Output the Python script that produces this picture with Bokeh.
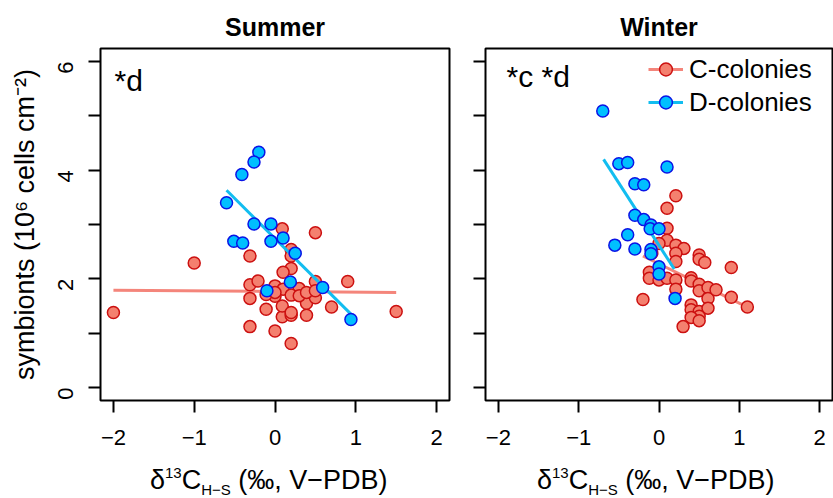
import math
from bokeh.plotting import figure
from bokeh.layouts import row, column
from bokeh.models import Range1d, FixedTicker, Label, Legend, LegendItem, Div
from bokeh.embed import file_html
from bokeh.resources import INLINE

FONT = "Liberation Sans"

# ---------------- data ----------------
summer_c_x = [-2.0, -1.0, 1.5, 0.9, 0.5, -0.31, -0.31, 0.0, 0.2, 0.7, 0.09, -0.31, -0.21,
              -0.31, -0.11, 0.39, 0.09, 0.2, 0.09, 0.39, 0.5, 0.5, 0.2, 0.1, 0.2, 0.2, 0.0,
              0.0, 0.1, 0.3, 0.2, 0.3, -0.11, 0.0, 0.39, 0.2, 0.5]
summer_c_y = [1.38, 2.29, 1.40, 1.95, 2.85, 2.42, 1.12, 1.04, 0.81, 1.48, 2.92, 1.89, 1.96,
              1.64, 1.44, 1.33, 1.30, 1.33, 1.50, 1.55, 1.65, 1.95, 2.19, 2.12, 2.54, 2.42, 1.87,
              1.68, 1.81, 1.82, 1.70, 1.69, 1.71, 1.75, 1.75, 1.38, 1.78]
summer_d_x = [-0.20, -0.26, -0.41, -0.60, -0.26, -0.05, -0.51, -0.40, -0.05, 0.10, 0.25,
              0.19, -0.10, 0.59, 0.94]
summer_d_y = [4.33, 4.15, 3.92, 3.40, 3.01, 3.01, 2.69, 2.66, 2.69, 2.75, 2.47,
              1.94, 1.78, 1.84, 1.25]
winter_c_x = [0.21, 0.10, 0.10, 0.10, 0.0, 0.21, 0.31, 0.21, 0.21, -0.09, 0.50, 0.50, 0.57,
              0.90, -0.12, -0.12, 0.0, 0.10, 0.21, 0.21, 0.40, 0.40, 0.50, 0.50, 0.61, 0.61,
              0.71, 0.90, 1.10, -0.20, 0.40, 0.40, 0.50, 0.50, 0.40, 0.50, 0.61, 0.30]
winter_c_y = [3.53, 3.30, 2.93, 2.71, 2.65, 2.62, 2.56, 2.47, 2.32, 2.47, 2.44, 2.36, 2.30,
              2.21, 2.12, 2.01, 1.98, 2.01, 1.98, 1.81, 2.02, 1.96, 1.90, 1.78, 1.84, 1.64,
              1.80, 1.66, 1.48, 1.62, 1.52, 1.43, 1.40, 1.31, 1.29, 1.23, 1.46, 1.12]
winter_d_x = [-0.70, -0.50, -0.39, 0.10, -0.30, -0.19, -0.30, -0.19, -0.10, -0.11, 0.0,
              -0.39, -0.55, -0.30, -0.10, -0.10, 0.0, 0.0, 0.20]
winter_d_y = [5.09, 4.12, 4.14, 4.06, 3.75, 3.73, 3.17, 3.09, 2.99, 2.92, 2.92,
              2.81, 2.62, 2.55, 2.54, 2.46, 2.22, 2.09, 1.64]

# regression lines as drawn in the reference (end points)
summer_c_fit_x = [-2.0, 1.5]
summer_c_fit_y = [1.79, 1.75]
summer_d_fit_x = [-0.60, 0.94]
summer_d_fit_y = [3.63, 1.35]
winter_c_fit_x = [-0.20, 1.10]
winter_c_fit_y = [2.42, 1.48]
winter_d_fit_x = [-0.69, 0.19]
winter_d_fit_y = [4.20, 2.18]

x_ticks = [-2, -1, 0, 1, 2]
x_tick_labels = ["\u22122", "\u22121", "0", "1", "2"]
y_ticks = [0, 1, 2, 3, 4, 5, 6]
y_tick_labels = ["0", "", "2", "", "4", "", "6"]
panel_titles = ["Summer", "Winter"]
panel_notes = ["*d", "*c *d"]
series_names = ["C-colonies", "D-colonies"]
y_label = "symbionts (10\u2076 cells cm\u207b\u00b2)"

C_FILL, C_EDGE, C_LINE = "#F4806F", "#CC1010", "#F4857B"
D_FILL, D_EDGE, D_LINE = "#00BFFF", "#0A14E6", "#12BDF0"

FIG_H = 455
TOP = 48
BOTTOM = 55


def make_panel(idx, cx, cy, dx, dy, fcx, fcy, fdx, fdy, width, bl, br, first):
    p = figure(width=width, height=FIG_H, x_range=Range1d(-2.16, 2.16),
               y_range=Range1d(-0.24, 6.24), output_backend="svg", toolbar_location=None,
               min_border_left=bl, min_border_right=br, min_border_top=TOP,
               min_border_bottom=BOTTOM, title=panel_titles[idx])
    p.title.align = "center"
    p.title.text_font = FONT
    p.title.text_font_size = "25px"
    p.title.text_font_style = "bold"
    p.title.text_color = "black"
    p.title.standoff = 15
    p.xgrid.grid_line_color = None
    p.ygrid.grid_line_color = None
    p.outline_line_color = "black"
    p.outline_line_width = 2
    p.outline_line_alpha = 1
    p.background_fill_color = "white"
    p.border_fill_color = "white"

    for ax in (p.xaxis[0], p.yaxis[0]):
        ax.axis_line_color = None
        ax.major_tick_out = 12
        ax.major_tick_in = 0
        ax.major_tick_line_width = 2
        ax.major_tick_line_color = "black"
        ax.minor_tick_line_color = None
        ax.major_label_text_font = FONT
        ax.major_label_text_font_size = "22px"
        ax.major_label_text_color = "black"
    p.xaxis.ticker = FixedTicker(ticks=x_ticks)
    p.xaxis.major_label_overrides = {t: s for t, s in zip(x_ticks, x_tick_labels)}
    p.xaxis.major_label_standoff = 17
    p.yaxis.ticker = FixedTicker(ticks=y_ticks)
    if first:
        p.yaxis.major_label_overrides = {t: s for t, s in zip(y_ticks, y_tick_labels)}
        p.yaxis.major_label_orientation = math.pi / 2
        p.yaxis.major_label_standoff = 23
        p.yaxis.axis_label = y_label
        p.yaxis.axis_label_text_font = FONT
        p.yaxis.axis_label_text_font_size = "27px"
        p.yaxis.axis_label_text_font_style = "normal"
        p.yaxis.axis_label_text_color = "black"
        p.yaxis.axis_label_standoff = 8
    else:
        p.yaxis.major_label_overrides = {t: "" for t in y_ticks}
        p.yaxis.major_label_standoff = 0

    lc = p.line(fcx, fcy, line_color=C_LINE, line_width=3)
    sc = p.scatter(cx, cy, marker="circle", size=12, fill_color=C_FILL,
                   line_color=C_EDGE, line_width=1.5)
    ld = p.line(fdx, fdy, line_color=D_LINE, line_width=3)
    sd = p.scatter(dx, dy, marker="circle", size=12, fill_color=D_FILL,
                   line_color=D_EDGE, line_width=1.5)

    p.add_layout(Label(x=14 if first else 21, y=320 if first else 324,
                       x_units="screen", y_units="screen", text=panel_notes[idx],
                       text_font=FONT, text_font_size="30px", text_baseline="alphabetic",
                       text_color="black"))

    if not first:
        items = [LegendItem(label=series_names[0], renderers=[lc, sc]),
                 LegendItem(label=series_names[1], renderers=[ld, sd])]
        leg = Legend(items=items, location="top_right")
        leg.label_text_font = FONT
        leg.label_text_font_size = "26px"
        leg.label_text_color = "black"
        leg.glyph_width = 35
        leg.glyph_height = 32
        leg.label_height = 32
        leg.label_width = 138
        leg.label_standoff = 6
        leg.spacing = 1
        leg.padding = 0
        leg.margin = 5
        leg.border_line_color = None
        leg.background_fill_alpha = 0
        p.add_layout(leg)
    return p


def x_title(width, left):
    html = (
        f'<div style="margin-left:{left}px; margin-top:12px; white-space:nowrap; '
        f"font-family:'{FONT}'; font-size:27px; line-height:27px; color:black\">"
        '\u03b4<span style="font-size:15px; position:relative; top:-11px">13</span>'
        'C<span style="font-size:15px; position:relative; top:6px">H\u2212S</span>'
        ' (\u2030, V\u2212PDB)</div>'
    )
    return Div(text=html, width=width, height=498 - FIG_H, margin=0)


p1 = make_panel(0, summer_c_x, summer_c_y, summer_d_x, summer_d_y,
                summer_c_fit_x, summer_c_fit_y, summer_d_fit_x, summer_d_fit_y,
                465, 100, 16, True)
p2 = make_panel(1, winter_c_x, winter_c_y, winter_d_x, winter_d_y,
                winter_c_fit_x, winter_c_fit_y, winter_d_fit_x, winter_d_fit_y,
                368, 20, 1, False)

layout = column(row(p1, p2), row(x_title(465, 150), x_title(368, 72)))
open("out.html", "w").write(file_html(layout, INLINE))
